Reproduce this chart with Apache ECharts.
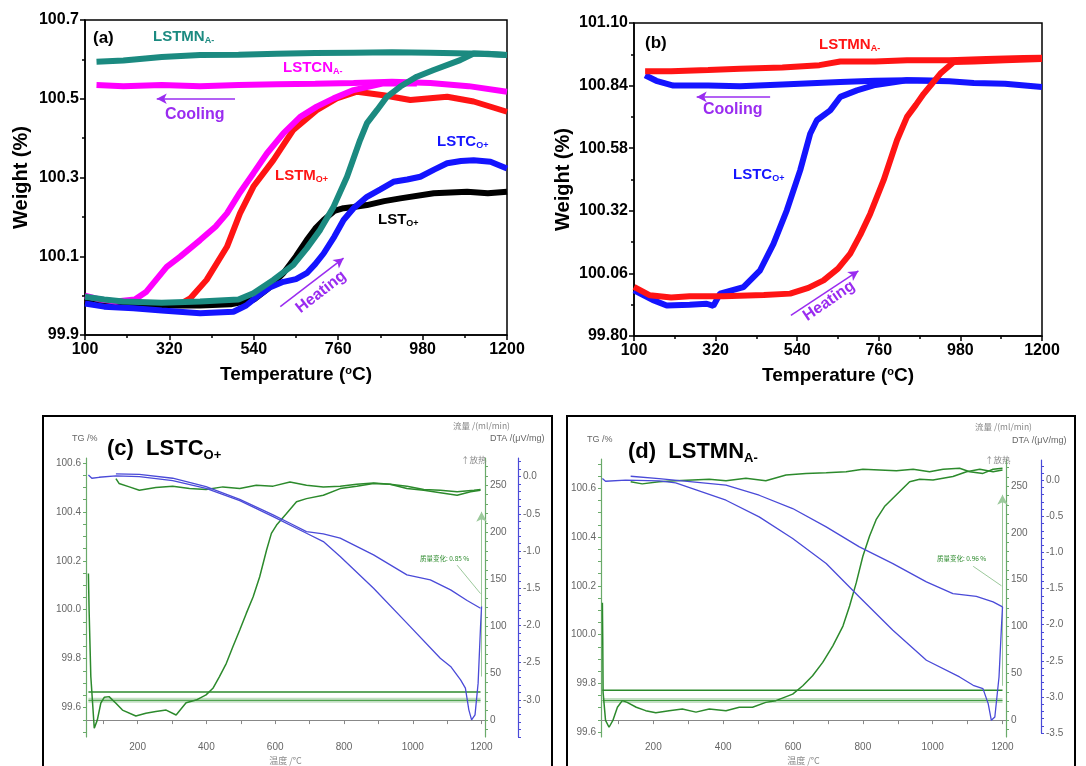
<!DOCTYPE html>
<html><head><meta charset="utf-8">
<script src="https://cdn.jsdelivr.net/npm/echarts@6/dist/echarts.min.js"></script>
<style>html,body{margin:0;padding:0;background:#fff}#chart{width:1086px;height:766px}</style>
</head><body><div id="chart"></div>
<script>
// ---------- Panel (a) ----------
const aXTicks = [100, 320, 540, 760, 980, 1200];
const aYTicks = [99.9, 100.1, 100.3, 100.5, 100.7];
const a_LSTMN_cool = [[130,100.594],[200,100.597],[300,100.606],[400,100.611],[500,100.612],[600,100.614],[700,100.616],[800,100.617],[900,100.618],[1000,100.617],[1100,100.615],[1150,100.614],[1200,100.611]];
const a_LSTMN_heat = [[100,99.997],[150,99.99],[200,99.985],[300,99.982],[400,99.985],[500,99.99],[539,100.006],[591,100.04],[643,100.078],[678,100.12],[713,100.167],[748,100.226],[783,100.302],[817,100.395],[835,100.438],[861,100.471],[887,100.505],[922,100.531],[965,100.556],[1009,100.573],[1078,100.598],[1113,100.615],[1200,100.611]];
const a_LSTCN_cool = [[130,100.535],[200,100.532],[300,100.535],[400,100.532],[500,100.535],[600,100.537],[700,100.538],[800,100.54],[900,100.543],[1000,100.54],[1100,100.532],[1200,100.518]];
const a_LSTCN_heat = [[100,100.0],[140,99.99],[180,99.985],[230,99.99],[260,100.01],[313,100.073],[348,100.099],[400,100.141],[440,100.175],[470,100.209],[504,100.262],[539,100.311],[574,100.361],[617,100.412],[661,100.454],[704,100.48],[748,100.501],[800,100.522],[878,100.539],[965,100.539]];
const a_LSTM_heat = [[100,99.99],[200,99.982],[313,99.976],[350,99.98],[374,99.993],[417,100.04],[470,100.124],[504,100.209],[539,100.277],[591,100.344],[643,100.421],[704,100.471],[756,100.501],[809,100.518],[878,100.509],[948,100.497],[1044,100.505],[1113,100.493],[1200,100.467]];
const a_LST_heat = [[100,99.985],[200,99.978],[300,99.975],[400,99.975],[480,99.978],[540,99.99],[580,100.02],[617,100.057],[650,100.1],[678,100.141],[700,100.17],[722,100.192],[750,100.215],[774,100.222],[800,100.225],[835,100.23],[880,100.24],[922,100.247],[1009,100.26],[1096,100.264],[1150,100.26],[1200,100.264]];
const a_LSTC_heat = [[100,99.98],[150,99.972],[226,99.968],[300,99.962],[400,99.955],[487,99.959],[520,99.975],[548,99.997],[580,100.02],[617,100.035],[650,100.042],[678,100.057],[700,100.08],[722,100.107],[750,100.15],[774,100.192],[800,100.222],[835,100.251],[870,100.27],[904,100.289],[940,100.295],[974,100.302],[1010,100.32],[1044,100.336],[1080,100.342],[1113,100.344],[1157,100.34],[1200,100.323]];

// ---------- Panel (b) ----------
const bXTicks = [100, 320, 540, 760, 980, 1200];
const bYTicks = [99.80, 100.06, 100.32, 100.58, 100.84, 101.10];
const b_LSTMN_cool = [[130,100.9],[200,100.9],[300,100.905],[386,100.91],[500,100.915],[600,100.925],[656,100.94],[750,100.94],[836,100.945],[950,100.945],[1050,100.95],[1150,100.955],[1200,100.956]];
const b_LSTMN_heat = [[100,100.004],[143,99.969],[200,99.96],[250,99.965],[341,99.965],[450,99.97],[521,99.976],[570,100.0],[611,100.031],[650,100.08],[683,100.142],[710,100.22],[737,100.308],[773,100.447],[809,100.613],[836,100.71],[860,100.76],[881,100.806],[926,100.89],[962,100.938],[1016,100.94],[1100,100.945],[1200,100.95]];
const b_LSTC_cool = [[130,100.883],[160,100.86],[206,100.84],[300,100.84],[386,100.837],[500,100.845],[656,100.855],[750,100.86],[836,100.862],[950,100.858],[1016,100.851],[1100,100.848],[1200,100.834]];
const b_LSTC_heat = [[100,99.99],[150,99.95],[188,99.927],[250,99.93],[296,99.934],[314,99.925],[332,99.976],[395,100.003],[440,100.073],[476,100.183],[512,100.322],[548,100.488],[575,100.64],[593,100.696],[629,100.737],[656,100.793],[701,100.82],[746,100.841],[836,100.862],[926,100.86]];

// ---------- Panel (c) LSTC O+ ----------
const cdXLabels = [200, 400, 600, 800, 1000, 1200];
const cdXTicks = [100, 200, 300, 400, 500, 600, 700, 800, 900, 1000, 1100, 1200];
const cTGLabels = [99.6, 99.8, 100.0, 100.2, 100.4, 100.6];
const dTGLabels = [99.6, 99.8, 100.0, 100.2, 100.4, 100.6];
const flowLabels = [0, 50, 100, 150, 200, 250];
const cDTALabels = [0.0, -0.5, -1.0, -1.5, -2.0, -2.5, -3.0];
const dDTALabels = [0.0, -0.5, -1.0, -1.5, -2.0, -2.5, -3.0, -3.5];
const c_TG_heat = [[57,100.148],[59,99.999],[64,99.727],[74,99.516],[83,99.55],[93,99.618],[103,99.642],[117,99.645],[137,99.618],[156,99.59],[195,99.566],[224,99.577],[253,99.584],[283,99.59],[312,99.57],[341,99.62],[370,99.631],[399,99.652],[419,99.679],[438,99.727],[458,99.781],[477,99.849],[497,99.917],[516,99.985],[536,100.053],[555,100.135],[575,100.244],[589,100.312],[604,100.346],[633,100.393],[662,100.441],[691,100.454],[740,100.468],[789,100.495],[837,100.505],[886,100.516],[934,100.513],[983,100.505],[1032,100.491],[1080,100.488],[1129,100.482],[1178,100.488],[1197,100.491]];
const c_TG_cool = [[137,100.536],[146,100.516],[176,100.502],[205,100.488],[253,100.499],[302,100.505],[351,100.495],[399,100.491],[448,100.502],[497,100.495],[545,100.509],[594,100.505],[643,100.522],[691,100.509],[740,100.502],[789,100.505],[837,100.513],[886,100.518],[934,100.513],[983,100.495],[1032,100.488],[1080,100.478],[1129,100.468],[1168,100.482],[1197,100.488]];
const c_DTA_a = [[57,0.022],[67,-0.022],[88,-0.009],[137,0.009],[205,0],[302,-0.054],[399,-0.157],[497,-0.322],[594,-0.537],[691,-0.761],[740,-0.873],[789,-1.075],[886,-1.5],[983,-1.97],[1080,-2.441],[1110,-2.552],[1139,-2.732],[1153,-2.844],[1163,-3.135],[1171,-3.269],[1181,-3.202],[1190,-2.776],[1197,-2.015],[1200,-1.746]];
const c_DTA_b = [[137,0.036],[205,0.031],[302,-0.022],[399,-0.134],[497,-0.305],[594,-0.515],[643,-0.627],[691,-0.739],[740,-0.77],[789,-0.828],[886,-1.052],[983,-1.321],[1051,-1.388],[1110,-1.523],[1158,-1.666],[1197,-1.769]];
const c_flow_1 = [[57,30],[1197,30]];
const c_flow_2 = [[57,21],[1197,21]];

// ---------- Panel (d) LSTMN A- ----------
const d_TG_heat = [[54,100.131],[55,99.981],[56,99.763],[63,99.648],[73,99.62],[84,99.648],[97,99.702],[111,99.729],[125,99.722],[151,99.702],[178,99.688],[207,99.679],[245,99.688],[283,99.695],[322,99.682],[360,99.695],[408,99.688],[446,99.702],[484,99.702],[522,99.722],[551,99.729],[599,99.756],[628,99.79],[656,99.831],[685,99.886],[714,99.954],[743,100.035],[762,100.117],[781,100.212],[800,100.321],[819,100.403],[838,100.471],[862,100.525],[886,100.559],[910,100.593],[934,100.627],[963,100.637],[1001,100.634],[1058,100.648],[1097,100.668],[1135,100.678],[1173,100.668],[1200,100.675]];
const d_TG_cool = [[135,100.627],[168,100.618],[216,100.627],[264,100.631],[312,100.634],[360,100.637],[408,100.631],[465,100.641],[522,100.631],[580,100.654],[637,100.661],[695,100.664],[752,100.668],[800,100.678],[848,100.675],[896,100.672],[944,100.678],[991,100.668],[1030,100.678],[1077,100.682],[1106,100.668],[1144,100.661],[1173,100.678],[1200,100.682]];
const d_DTA_a = [[54,0.023],[63,-0.014],[121,0],[216,-0.009],[264,-0.037],[312,-0.115],[408,-0.277],[503,-0.508],[599,-0.808],[695,-1.154],[790,-1.616],[886,-2.078],[982,-2.493],[1077,-2.724],[1116,-2.839],[1144,-2.886],[1159,-3.093],[1168,-3.324],[1178,-3.278],[1190,-2.724],[1197,-2.031],[1200,-1.754]];
const d_DTA_b = [[135,0.055],[216,0.023],[312,-0.023],[408,-0.069],[503,-0.208],[599,-0.392],[695,-0.646],[790,-0.923],[886,-1.154],[982,-1.408],[1058,-1.57],[1125,-1.607],[1173,-1.685],[1200,-1.754]];
const d_flow_1 = [[54,32],[1200,32]];
const d_flow_2 = [[54,21],[1200,21]];

// ---------- styling ----------
const FF = '"Liberation Sans", Arial, sans-serif';
const CJK = '"Noto Sans CJK SC", "Liberation Sans", sans-serif';
const TEAL = '#1b8a80', MAG = '#ff00ff', RED = '#ff1414', BLUE = '#1414ff', PURP = '#9a2cf0';
const GREEN = '#2c8a2c', GAXIS = '#6aaa6a', DBLUE = '#4a4ad8', GRAY = '#666';

function range(a, b, s) { const r = []; for (let v = a; v <= b + 1e-9; v += s) r.push(+v.toFixed(4)); return r; }

function boldAxisX(gi, ticks) {
  return {
    gridIndex: gi, type: 'value', min: ticks[0], max: ticks[ticks.length - 1], interval: ticks[1] - ticks[0],
    axisLine: { lineStyle: { color: '#000', width: 1.5 } },
    axisTick: { length: 5, lineStyle: { color: '#000', width: 1.5 } },
    minorTick: { show: true, splitNumber: 2, length: 3, lineStyle: { color: '#000', width: 1.5 } },
    axisLabel: { fontFamily: FF, fontWeight: 'bold', fontSize: 16, color: '#000', margin: 7, formatter: v => String(v) },
    splitLine: { show: false },
    name: 'Temperature ({s|o}C)', nameLocation: 'middle', nameGap: 30,
    nameTextStyle: { fontFamily: FF, fontWeight: 'bold', fontSize: 19, color: '#000',
      rich: { s: { fontFamily: FF, fontWeight: 'bold', fontSize: 11, color: '#000', padding: [0, 0, 9, 0] } } }
  };
}
function boldAxisY(gi, ticks, dec, gap) {
  return {
    gridIndex: gi, type: 'value', min: ticks[0], max: ticks[ticks.length - 1], interval: +(ticks[1] - ticks[0]).toFixed(4),
    axisLine: { lineStyle: { color: '#000', width: 1.5 } },
    axisTick: { length: 5, lineStyle: { color: '#000', width: 1.5 } },
    minorTick: { show: true, splitNumber: 2, length: 3, lineStyle: { color: '#000', width: 1.5 } },
    axisLabel: { fontFamily: FF, fontWeight: 'bold', fontSize: 16, color: '#000', margin: 6, formatter: v => v.toFixed(dec) },
    splitLine: { show: false },
    name: 'Weight (%)', nameLocation: 'middle', nameGap: gap,
    nameTextStyle: { fontFamily: FF, fontWeight: 'bold', fontSize: 20, color: '#000' }
  };
}
function thinX(gi, show) {
  return {
    gridIndex: gi, type: 'value', min: 50, max: 1210, show: show,
    axisLine: { lineStyle: { color: '#888', width: 1 } },
    axisTick: { length: 4, customValues: cdXTicks, lineStyle: { color: '#888' } },
    axisLabel: { customValues: cdXLabels, fontFamily: FF, fontSize: 10, color: GRAY, margin: 5, formatter: v => String(v) },
    splitLine: { show: false },
    name: '温度 /°C', nameLocation: 'middle', nameGap: 19,
    nameTextStyle: { fontFamily: CJK, fontSize: 9, color: '#888' }
  };
}
function thinY(gi, pos, offset, min, max, labels, ticks, color, dec) {
  return {
    gridIndex: gi, type: 'value', position: pos, offset: offset, min: min, max: max,
    axisLine: { show: true, lineStyle: { color: color, width: 1.2 } },
    axisTick: { show: true, length: 3, customValues: ticks, lineStyle: { color: color } },
    axisLabel: { customValues: labels, fontFamily: FF, fontSize: 10, color: GRAY, margin: 5,
      formatter: v => dec >= 0 ? v.toFixed(dec) : String(v) },
    splitLine: { show: false }
  };
}

function line(xi, yi, data, color, width, z, extra) {
  return Object.assign({ type: 'line', xAxisIndex: xi, yAxisIndex: yi, data: data, showSymbol: false, symbol: 'none',
    lineStyle: { color: color, width: width }, itemStyle: { color: color }, z: z, silent: true, animation: false }, extra || {});
}
function arrowML(p1, p2, color, w, arrow) {
  return { markLine: { silent: true, animation: false, symbol: ['none', arrow ? 'arrow' : 'none'], symbolSize: [8, 10],
    label: { show: false }, lineStyle: { color: color, width: w, type: 'solid' },
    data: [[{ coord: p1 }, { coord: p2 }]] } };
}

function txt(x, y, rich, parts, align, rot) {
  return { type: 'text', x: x, y: y, rotation: rot || 0, z: 100, silent: true,
    style: { text: parts, rich: rich, align: align || 'left', verticalAlign: 'middle' } };
}
function lbl(color, size, sub) {
  return {
    m: { fontFamily: FF, fontWeight: 'bold', fontSize: size, fill: color },
    s: { fontFamily: FF, fontWeight: 'bold', fontSize: sub, fill: color, padding: [Math.round(size * 0.55), 0, 0, 0] }
  };
}
function plain(x, y, text, size, color, family, align, weight) {
  return { type: 'text', x: x, y: y, z: 100, silent: true,
    style: { text: text, fontFamily: family || FF, fontSize: size, fill: color, fontWeight: weight || 'normal', align: align || 'left', verticalAlign: 'middle' } };
}

const option = {
  backgroundColor: '#fff',
  animation: false,
  grid: [
    { left: 85, top: 20, width: 422, height: 315, show: true, borderColor: '#000', borderWidth: 1.5, backgroundColor: 'transparent' },
    { left: 634, top: 23, width: 408, height: 313, show: true, borderColor: '#000', borderWidth: 1.5, backgroundColor: 'transparent' },
    { left: 86, top: 458, width: 399, height: 279 },
    { left: 601, top: 459, width: 405, height: 279 },
    { left: 601, top: 460, width: 405, height: 273 }
  ],
  xAxis: [
    boldAxisX(0, aXTicks),
    boldAxisX(1, bXTicks),
    thinX(2, true),
    thinX(3, true),
    Object.assign(thinX(4, false), { name: '' })
  ],
  yAxis: [
    boldAxisY(0, aYTicks, 1, 54),
    boldAxisY(1, bYTicks, 2, 61),
    thinY(2, 'left', 0, 99.48, 100.62, cTGLabels, range(99.5, 100.6, 0.05), GAXIS, 1),
    thinY(2, 'right', 0, -18, 279, flowLabels, range(-10, 270, 10), GAXIS, -1),
    thinY(2, 'right', 33, -3.5, 0.25, cDTALabels, range(-3.5, 0.2, 0.1), DBLUE, 1),
    thinY(3, 'left', 0, 99.58, 100.72, dTGLabels, range(99.6, 100.7, 0.05), GAXIS, 1),
    thinY(3, 'right', 0, -18, 279, flowLabels, range(-10, 270, 10), GAXIS, -1),
    thinY(4, 'right', 35, -3.5, 0.28, dDTALabels, range(-3.5, 0.2, 0.1), DBLUE, 1)
  ],
  series: [
    // (a)
    line(0, 0, a_LSTM_heat, RED, 6, 2),
    line(0, 0, a_LST_heat, '#000', 6, 3),
    line(0, 0, a_LSTC_heat, BLUE, 6, 4, arrowML([609, 99.972], [774, 100.095], PURP, 1.5, true)),
    line(0, 0, a_LSTCN_cool, MAG, 6, 5, arrowML([491, 100.5], [287, 100.5], PURP, 1.5, true)),
    line(0, 0, a_LSTCN_heat, MAG, 6, 6),
    line(0, 0, a_LSTMN_cool, TEAL, 6, 7),
    line(0, 0, a_LSTMN_heat, TEAL, 6, 8),
    // (b)
    line(1, 1, b_LSTC_heat, BLUE, 6, 3),
    line(1, 1, b_LSTC_cool, BLUE, 6, 4, arrowML([467, 100.793], [269, 100.793], PURP, 1.5, true)),
    line(1, 1, b_LSTMN_cool, RED, 6, 5),
    line(1, 1, b_LSTMN_heat, RED, 6, 6, arrowML([523, 99.886], [705, 100.07], PURP, 1.5, true)),
    // (c)
    line(2, 3, c_flow_2, '#c4e0c4', 5, 2),
    line(2, 3, c_flow_2, '#3f9a3f', 1, 3),
    line(2, 3, c_flow_1, GREEN, 1.5, 3),
    line(2, 2, c_TG_cool, GREEN, 1.5, 5, arrowML([1129, 100.182], [1197, 100.066], '#9cc99c', 1, false)),
    line(2, 2, c_TG_heat, GREEN, 1.5, 5, arrowML([1200, 99.727], [1200, 100.4], '#9cc99c', 1, true)),
    line(2, 4, c_DTA_a, DBLUE, 1.3, 6),
    line(2, 4, c_DTA_b, DBLUE, 1.3, 6),
    // (d)
    line(3, 6, d_flow_2, '#c4e0c4', 5, 2),
    line(3, 6, d_flow_2, '#3f9a3f', 1, 3),
    line(3, 6, d_flow_1, GREEN, 1.5, 3),
    line(3, 5, d_TG_cool, GREEN, 1.5, 5, arrowML([1116, 100.28], [1197, 100.2], '#9cc99c', 1, false)),
    line(3, 5, d_TG_heat, GREEN, 1.5, 5, arrowML([1200, 99.79], [1200, 100.573], '#9cc99c', 1, true)),
    line(4, 7, d_DTA_a, DBLUE, 1.3, 6),
    line(4, 7, d_DTA_b, DBLUE, 1.3, 6)
  ],
  graphic: [
    // boxes c/d
    { type: 'rect', shape: { x: 43, y: 416, width: 509, height: 360 }, style: { fill: 'none', stroke: '#000', lineWidth: 2 }, z: 50, silent: true },
    { type: 'rect', shape: { x: 567, y: 416, width: 508, height: 360 }, style: { fill: 'none', stroke: '#000', lineWidth: 2 }, z: 50, silent: true },
    // (a) labels
    txt(93, 38, lbl('#000', 17, 10), '{m|(a)}'),
    txt(153, 37, lbl(TEAL, 15, 9), '{m|LSTMN}{s|A-}'),
    txt(283, 68, lbl(MAG, 15, 9), '{m|LSTCN}{s|A-}'),
    txt(165, 115, lbl(PURP, 16, 9), '{m|Cooling}'),
    txt(275, 176, lbl(RED, 15, 9), '{m|LSTM}{s|O+}'),
    txt(437, 142, lbl(BLUE, 15, 9), '{m|LSTC}{s|O+}'),
    txt(378, 220, lbl('#000', 15, 9), '{m|LST}{s|O+}'),
    txt(321, 292, lbl(PURP, 16, 9), '{m|Heating}', 'center', 0.66),
    // (b) labels
    txt(645, 43, lbl('#000', 17, 10), '{m|(b)}'),
    txt(819, 45, lbl(RED, 15, 9), '{m|LSTMN}{s|A-}'),
    txt(703, 110, lbl(PURP, 16, 9), '{m|Cooling}'),
    txt(733, 175, lbl(BLUE, 15, 9), '{m|LSTC}{s|O+}'),
    txt(829, 301, lbl(PURP, 16, 9), '{m|Heating}', 'center', 0.6),
    // (c) labels
    txt(107, 449, lbl('#000', 22, 13), '{m|(c)  LSTC}{s|O+}'),
    plain(72, 439, 'TG /%', 9, GRAY),
    plain(453, 426, '流量 /(ml/min)', 8.5, '#888', CJK),
    plain(490, 439, 'DTA /(μV/mg)', 9, GRAY),
    plain(461, 460, '↑放热', 8.5, '#888', CJK),
    plain(420, 559, '质量变化: 0.85 %', 6.5, GREEN, CJK),
    // (d) labels
    txt(628, 452, lbl('#000', 22, 13), '{m|(d)  LSTMN}{s|A-}'),
    plain(587, 440, 'TG /%', 9, GRAY),
    plain(975, 427, '流量 /(ml/min)', 8.5, '#888', CJK),
    plain(1012, 441, 'DTA /(μV/mg)', 9, GRAY),
    plain(985, 460, '↑放热', 8.5, '#888', CJK),
    plain(937, 559, '质量变化: 0.96 %', 6.5, GREEN, CJK)
  ]
};

const chart = echarts.init(document.getElementById('chart'), null, { renderer: 'canvas', width: 1086, height: 766 });
chart.setOption(option);
</script></body></html>
